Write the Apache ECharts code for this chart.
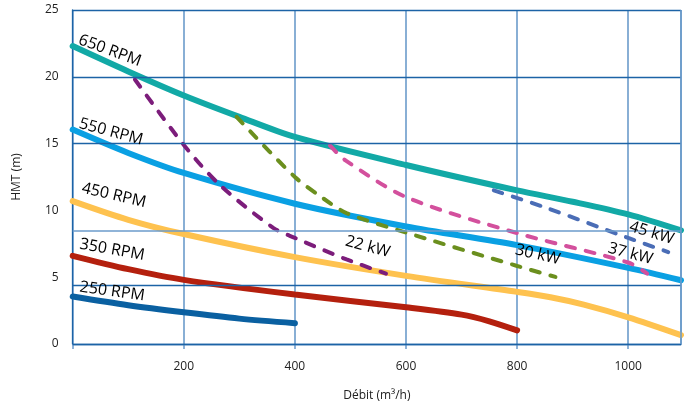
<!DOCTYPE html>
<html><head><meta charset="utf-8">
<script src="https://cdn.jsdelivr.net/npm/echarts@6/dist/echarts.min.js"></script>
<style>html,body{margin:0;padding:0;background:#fff}#c{width:696px;height:407px}</style>
</head><body><div id="c"></div>
<script>
// Solid speed curves (Débit m3/h, HMT m)
const rpm650 = [[0,22.3],[100,20.4],[200,18.6],[300,17.0],[400,15.5],[600,13.4],[800,11.5],[900,10.65],[1000,9.7],[1095,8.5]];
const rpm550 = [[0,16.05],[100,14.3],[200,12.8],[400,10.5],[600,8.8],[800,7.4],[1000,5.7],[1095,4.77]];
const rpm450 = [[0,10.7],[100,9.3],[200,8.23],[400,6.5],[600,5.1],[800,3.9],[860,3.5],[920,2.95],[1000,2.0],[1095,0.67]];
const rpm350 = [[0,6.6],[100,5.6],[200,4.8],[400,3.7],[600,2.75],[700,2.2],[750,1.7],[800,1.02]];
const rpm250 = [[0,3.55],[100,2.9],[200,2.37],[300,1.9],[400,1.56]];
// Dashed power curves
const kw22 = [[112,19.8],[200,14.9],[265,11.9],[361,8.7],[400,7.94],[493,6.33],[564,5.27]];
const kw30 = [[295,17.0],[400,12.5],[451,10.9],[493,9.8],[593,8.43],[800,5.84],[869,5.02]];
const kw37 = [[463,14.86],[491,13.75],[600,11.0],[800,8.3],[1000,6.1],[1034,5.27]];
const kw45 = [[758,11.5],[852,10.2],[1000,7.94],[1072,6.88]];
// Curve labels (text, data position, angle)
const labelText = ['650 RPM','550 RPM','450 RPM','350 RPM','250 RPM','22 kW','30 kW','37 kW','45 kW'];
const labelPos = [[67,21.96],[69,15.88],[74,11.13],[71,7.05],[71,3.93],[531,7.27],[837,6.68],[1004,6.75],[1042,8.31]];
const labelAngle = [-20,-15,-13,-10,-8,-15,-13,-15,-17];
// Axis ticks
const yTicks = [0,5,10,15,20,25];
const xTicks = [200,400,600,800,1000];
const gridLinesY = [0,4.4,15,20,25];
const lightGridY = [8.5];

const FONT = '"Open Sans", "Noto Sans", sans-serif';
const chart = echarts.init(document.getElementById('c'), null, {renderer:'canvas'});

function solid(name, data, color){
  return {name, type:'line', data, smooth:0.3, symbol:'none',
    lineStyle:{color, width:6, cap:'round'}, z:3};
}
function dashed(name, data, color){
  return {name, type:'line', data, smooth:0.3, symbol:'none',
    lineStyle:{color, width:4, type:[9,11], cap:'round'}, z:4};
}

const series = [
  {type:'line', data:[], symbol:'none', silent:true,
   markLine:{symbol:'none', silent:true, label:{show:false},
     data: gridLinesY.map(v=>({yAxis:v, lineStyle:{color:'#1c63a6', width:1.3, type:'solid'}}))
       .concat(lightGridY.map(v=>({yAxis:v, lineStyle:{color:'#6b9bcb', width:1.6, type:'solid'}})))
       .concat([{xAxis:1095, lineStyle:{color:'#6b9bcb', width:1.6, type:'solid'}}])
   }, z:1},
  solid('650 RPM', rpm650, '#12a9a6'),
  solid('550 RPM', rpm550, '#0aa0e3'),
  solid('450 RPM', rpm450, '#fec24f'),
  solid('350 RPM', rpm350, '#b4200e'),
  solid('250 RPM', rpm250, '#0a60a1'),
  dashed('22 kW', kw22, '#7c1d7b'),
  dashed('30 kW', kw30, '#6b8f1e'),
  dashed('37 kW', kw37, '#d3509d'),
  dashed('45 kW', kw45, '#4a6db6'),
  {type:'scatter', symbolSize:0, z:10, silent:true, itemStyle:{opacity:1},
   data: labelText.map((t,i)=>({value:labelPos[i], name:t,
     label:{show:true, formatter:t, rotate:labelAngle[i], position:'inside',
       color:'#000', opacity:1, fontSize:16, fontFamily:FONT}}))}
];

chart.setOption({
  animation:false,
  grid:{left:72.7, right:15, top:10, bottom:60, containLabel:false},
  xAxis:{type:'value', min:0, max:1095, interval:200,
    name:'Débit (m³/h)', nameLocation:'middle', nameGap:46,
    nameTextStyle:{fontFamily:FONT, fontSize:12, color:'#222'},
    axisLine:{show:true, lineStyle:{color:'#1c63a6', width:1.3}},
    axisTick:{show:true, length:5, lineStyle:{color:'#6b9bcb', width:1.5}},
    axisLabel:{fontFamily:FONT, fontSize:12, color:'#222', margin:17,
      showMaxLabel:false, formatter:v=> xTicks.includes(v)? String(v):''},
    splitLine:{show:true, lineStyle:{color:'#6b9bcb', width:1.6}}
  },
  yAxis:{type:'value', min:0, max:25, interval:5,
    name:'HMT (m)', nameLocation:'middle', nameGap:50, nameRotate:90,
    nameTextStyle:{fontFamily:FONT, fontSize:12, color:'#222'},
    axisLine:{show:true, lineStyle:{color:'#1c63a6', width:1.3}},
    axisTick:{show:false},
    axisLabel:{fontFamily:FONT, fontSize:12, color:'#222', margin:14,
      formatter:v=> yTicks.includes(v)? String(v):''},
    splitLine:{show:false}
  },
  series
});
</script></body></html>
